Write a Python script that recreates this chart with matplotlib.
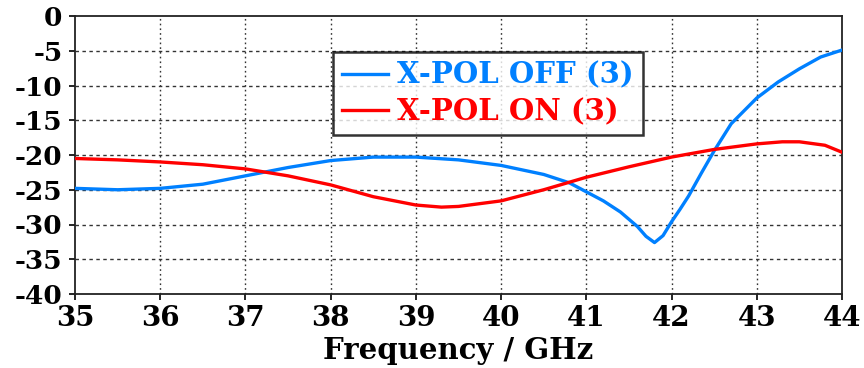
import matplotlib
matplotlib.use("Agg")
import matplotlib.pyplot as plt

# Cross-polar level, switch OFF
freq_off = [35.0, 35.5, 36.0, 36.5, 37.0, 37.5, 38.0, 38.5, 39.0, 39.5, 40.0,
            40.5, 40.8, 41.0, 41.2, 41.4, 41.6, 41.7, 41.8, 41.9, 42.0, 42.1,
            42.2, 42.35, 42.5, 42.7, 43.0, 43.25, 43.5, 43.75, 44.0]
xpol_off = [-24.8, -25.0, -24.8, -24.2, -23.0, -21.8, -20.8, -20.3, -20.3, -20.7, -21.5,
            -22.8, -24.0, -25.3, -26.6, -28.2, -30.3, -31.7, -32.6, -31.6, -29.6, -27.8,
            -25.9, -22.6, -19.4, -15.5, -11.8, -9.5, -7.6, -5.9, -4.9]

# Cross-polar level, switch ON
freq_on = [35.0, 35.5, 36.0, 36.5, 37.0, 37.5, 38.0, 38.5, 39.0, 39.3, 39.5,
           40.0, 40.5, 41.0, 41.5, 42.0, 42.5, 43.0, 43.3, 43.5, 43.8, 44.0]
xpol_on = [-20.5, -20.7, -21.0, -21.4, -22.0, -23.0, -24.3, -26.0, -27.2, -27.5, -27.4,
           -26.6, -25.0, -23.2, -21.7, -20.3, -19.2, -18.4, -18.1, -18.1, -18.6, -19.6]

x_ticks = [35, 36, 37, 38, 39, 40, 41, 42, 43, 44]
y_ticks = [0, -5, -10, -15, -20, -25, -30, -35, -40]

plt.rcParams["font.family"] = ["DejaVu Serif"]
plt.rcParams["font.weight"] = "bold"

fig = plt.figure(figsize=(8.64, 3.68), dpi=100)
ax = fig.add_axes([75 / 864, 1 - 294 / 368, (842 - 75) / 864, (294 - 16) / 368])

blue = "#0080ff"
red = "#ff0000"
ax.plot(freq_off, xpol_off, color=blue, lw=2.4, label="X-POL OFF (3)", zorder=3)
ax.plot(freq_on, xpol_on, color=red, lw=2.4, label="X-POL ON (3)", zorder=3)

ax.set_xlim(35, 44)
ax.set_ylim(-40, 0)
ax.set_xticks(x_ticks)
ax.set_yticks(y_ticks)
ax.set_xticklabels([str(t) for t in x_ticks], fontsize=20, fontweight="bold")
ax.set_yticklabels([str(t) for t in y_ticks], fontsize=19, fontweight="bold")
ax.tick_params(axis="x", direction="out", length=4, width=1.2, pad=4)
ax.tick_params(axis="y", direction="out", length=4, width=1.2, pad=5)

for y in y_ticks[1:-1]:
    ax.axhline(y, color="#333333", lw=1.0, ls=(0, (2.5, 2.5)), zorder=1)
for x in x_ticks[1:-1]:
    ax.axvline(x, color="#333333", lw=1.0, ls=(0, (1.2, 2.2)), zorder=1)

for s in ax.spines.values():
    s.set_linewidth(1.3)
    s.set_color("#222222")

ax.set_xlabel("Frequency / GHz", fontsize=21, fontweight="bold", labelpad=3)

leg = ax.legend(loc="upper left", bbox_to_anchor=((333 - 75) / 767, 1 - (52 - 16) / 278),
                fontsize=21, frameon=True, fancybox=False, edgecolor="black",
                handlelength=1.6, handletextpad=0.3, borderpad=0.3, labelspacing=0.25,
                borderaxespad=0)
leg.get_frame().set_linewidth(1.8)
for txt, col in zip(leg.get_texts(), [blue, red]):
    txt.set_color(col)
    txt.set_fontweight("bold")

fig.savefig("out.png", dpi=100)
